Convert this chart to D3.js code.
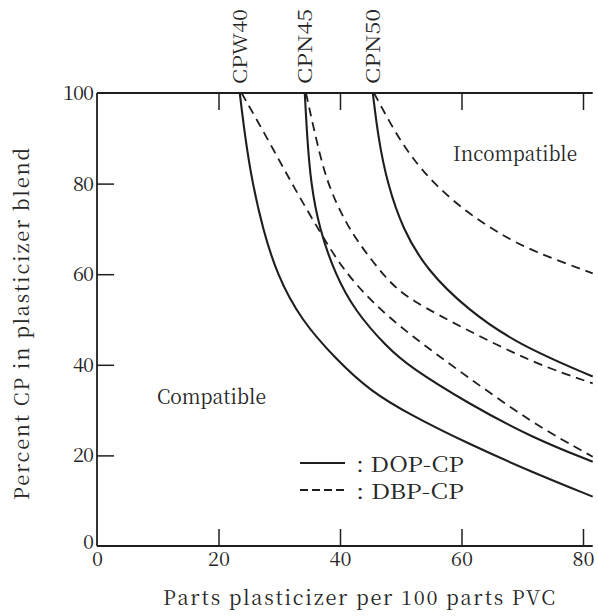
<!DOCTYPE html>
<html>
<head>
<meta charset="utf-8">
<script src="https://cdn.jsdelivr.net/npm/d3@7"></script>
<style>
  body { margin: 0; background: #fff; }
  svg { display: block; }
</style>
</head>
<body>
<svg id="chart"></svg>
<script>
// DATA
let xTicks = [0, 20, 40, 60, 80]
let yTicks = [0, 20, 40, 60, 80, 100]
let grades = ["CPW40", "CPN45", "CPN50"]

// DOP-CP (solid)
let dop_cpw40_x = [23.5, 24.4, 25.6, 27.3, 29.6, 33.5, 39.5, 44.9, 51.5, 60.9, 71.8, 81.6]
let dop_cpw40_y = [100, 90, 80, 70, 60, 50, 41.0, 34.3, 29.0, 22.7, 16.2, 10.9]
let dop_cpn45_x = [34.2, 34.6, 35.2, 36.6, 39.2, 42.4, 47.7, 51.5, 60.9, 71.8, 81.6]
let dop_cpn45_y = [100, 90, 80, 70, 60, 52, 43.9, 39.5, 31.6, 23.8, 18.6]
let dop_cpn50_x = [45.4, 46.3, 47.8, 50.3, 54.3, 60.9, 69.1, 81.6]
let dop_cpn50_y = [100, 90, 80, 70, 60.9, 52.3, 44.6, 37.4]

// DBP-CP (dashed)
let dbp_cpw40_x = [23.8, 28.2, 32.4, 36.7, 40.5, 45.4, 51.5, 60.9, 71.8, 81.6]
let dbp_cpw40_y = [100, 89.6, 79.2, 69.3, 61.0, 53.6, 46.6, 37.4, 27.0, 19.7]
let dbp_cpn45_x = [34.4, 36.7, 38.4, 40.5, 42.7, 47.7, 51.5, 60.9, 71.8, 81.6]
let dbp_cpn45_y = [100, 85.9, 78.6, 72.6, 67.5, 58.7, 54.3, 47.7, 40.4, 35.9]
let dbp_cpn50_x = [45.6, 48.7, 51.5, 55.4, 60.9, 66.3, 71.8, 81.6]
let dbp_cpn50_y = [100, 92.2, 86.3, 80.0, 73.6, 68.9, 65.0, 60.2]

let series = [
    {xs: dop_cpw40_x, ys: dop_cpw40_y, dashed: false},
    {xs: dop_cpn45_x, ys: dop_cpn45_y, dashed: false},
    {xs: dop_cpn50_x, ys: dop_cpn50_y, dashed: false},
    {xs: dbp_cpw40_x, ys: dbp_cpw40_y, dashed: true},
    {xs: dbp_cpn45_x, ys: dbp_cpn45_y, dashed: true},
    {xs: dbp_cpn50_x, ys: dbp_cpn50_y, dashed: true}
]

let svgWidth = 598
let svgHeight = 616
let ink = '#1e1e1e'
let textInk = '#262626'
let serif = '"Noto Serif CJK JP", "Liberation Serif", serif'

let svg = d3.select('#chart')
    .attr('width', svgWidth)
    .attr('height', svgHeight)

// SCALES
let x = d3.scaleLinear().domain([0, 80]).range([97, 583])
let y = d3.scaleLinear().domain([0, 100]).range([546, 93])
let xEnd = x(81.6)

// FRAME LINES
svg.append('line')
    .attr('x1', x(0)).attr('x2', xEnd)
    .attr('y1', y(0)).attr('y2', y(0))
    .attr('stroke', ink).attr('stroke-width', 1.8)
svg.append('line')
    .attr('x1', x(0)).attr('x2', xEnd)
    .attr('y1', y(100)).attr('y2', y(100))
    .attr('stroke', ink).attr('stroke-width', 1.8)
svg.append('line')
    .attr('x1', x(0)).attr('x2', x(0))
    .attr('y1', y(0)).attr('y2', y(100))
    .attr('stroke', ink).attr('stroke-width', 1.8)

// X-AXIS TICKS (bottom, pointing up)
let xAxis = svg.append('g')
    .attr('transform', `translate(0, ${y(0)})`)
    .call(d3.axisBottom(x).tickValues(xTicks).tickSize(-17).tickPadding(6).tickFormat(d3.format('d')))
xAxis.select('.domain').remove()
xAxis.selectAll('line').attr('stroke', ink).attr('stroke-width', 1.5)
xAxis.selectAll('.tick').filter(d => d === 0).select('line').remove()
xAxis.selectAll('text')
    .style('font-family', serif)
    .style('font-size', '20px')
    .attr('fill', textInk)

// TOP TICKS (pointing down, no labels)
let topAxis = svg.append('g')
    .attr('transform', `translate(0, ${y(100)})`)
    .call(d3.axisTop(x).tickValues([20, 40, 60, 80]).tickSize(-17).tickFormat(''))
topAxis.select('.domain').remove()
topAxis.selectAll('line').attr('stroke', ink).attr('stroke-width', 1.5)

// Y-AXIS TICKS (pointing right)
let yAxis = svg.append('g')
    .attr('transform', `translate(${x(0)}, 0)`)
    .call(d3.axisLeft(y).tickValues(yTicks).tickSize(-17).tickPadding(4).tickFormat(d3.format('d')))
yAxis.select('.domain').remove()
yAxis.selectAll('line').attr('stroke', ink).attr('stroke-width', 1.5)
yAxis.selectAll('.tick').filter(d => d === 0 || d === 100).select('line').remove()
yAxis.selectAll('text')
    .style('font-family', serif)
    .style('font-size', '20px')
    .style('letter-spacing', '-1px')
    .attr('fill', textInk)
yAxis.selectAll('.tick').filter(d => d === 0).select('text').attr('dy', '0.1em')

// CURVES
let line = d3.line()
    .x(d => x(d[0]))
    .y(d => y(d[1]))
    .curve(d3.curveBasis)

svg.append('g')
    .selectAll('path')
    .data(series)
    .join('path')
        .attr('d', s => line(s.xs.map((v, i) => [v, s.ys[i]])))
        .attr('fill', 'none')
        .attr('stroke', ink)
        .attr('stroke-width', d => d.dashed ? 1.8 : 2.1)
        .attr('stroke-dasharray', d => d.dashed ? '9,6' : null)

// GRADE LABELS (rotated, above the top line)
let gradeX = [dop_cpw40_x[0], dop_cpn45_x[0], dop_cpn50_x[0]]
svg.append('g')
    .selectAll('text')
    .data(grades)
    .join('text')
        .attr('transform', (d, i) => `translate(${x(gradeX[i]) + 7}, 84) rotate(-90)`)
        .style('font-family', serif)
        .style('font-size', '19px')
        .attr('fill', textInk)
        .attr('textLength', 75)
        .attr('lengthAdjust', 'spacingAndGlyphs')
        .text(d => d)

// REGION LABELS
svg.append('text')
    .attr('x', 453).attr('y', 161)
    .style('font-family', serif)
    .style('font-size', '20px')
    .attr('fill', textInk)
    .attr('textLength', 124)
    .attr('lengthAdjust', 'spacingAndGlyphs')
    .text('Incompatible')
svg.append('text')
    .attr('x', 157).attr('y', 404)
    .style('font-family', serif)
    .style('font-size', '20px')
    .attr('fill', textInk)
    .attr('textLength', 109)
    .attr('lengthAdjust', 'spacingAndGlyphs')
    .text('Compatible')

// LEGEND
let legend = [
    {label: ': DOP-CP', dashed: false},
    {label: ': DBP-CP', dashed: true}
]
let lg = svg.append('g')
lg.selectAll('line')
    .data(legend)
    .join('line')
        .attr('x1', 300).attr('x2', 345)
        .attr('y1', (d, i) => 463 + i * 27)
        .attr('y2', (d, i) => 463 + i * 27)
        .attr('stroke', ink)
        .attr('stroke-width', d => d.dashed ? 1.8 : 2.1)
        .attr('stroke-dasharray', d => d.dashed ? '8,4' : null)
lg.selectAll('text')
    .data(legend)
    .join('text')
        .attr('x', 356)
        .attr('y', (d, i) => 472 + i * 27)
        .style('font-family', serif)
        .style('font-size', '21px')
        .attr('fill', textInk)
        .attr('textLength', 108)
        .attr('lengthAdjust', 'spacingAndGlyphs')
        .text(d => d.label)

// AXIS TITLES
svg.append('text')
    .attr('x', 163).attr('y', 605)
    .style('font-family', serif)
    .style('font-size', '20px')
    .attr('fill', textInk)
    .attr('textLength', 392)
    .attr('lengthAdjust', 'spacing')
    .text('Parts plasticizer per 100 parts PVC')

svg.append('text')
    .attr('transform', 'translate(29, 500) rotate(-90)')
    .style('font-family', serif)
    .style('font-size', '20px')
    .attr('fill', textInk)
    .attr('textLength', 352)
    .attr('lengthAdjust', 'spacing')
    .text('Percent CP in plasticizer blend')
</script>
</body>
</html>
